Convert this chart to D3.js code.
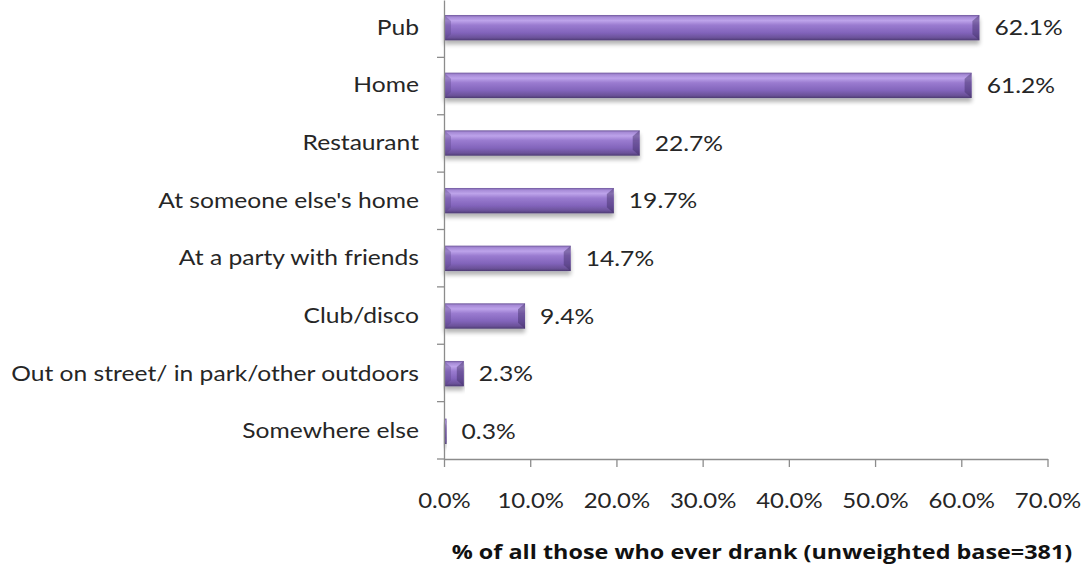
<!DOCTYPE html>
<html>
<head>
<meta charset="utf-8">
<script src="https://cdn.jsdelivr.net/npm/d3@7"></script>
<style>
  html, body { margin: 0; padding: 0; background: #fff; }
  svg { display: block; font-family: Lato, "Open Sans", sans-serif; }
</style>
</head>
<body>
<svg id="chart" width="1084" height="565"></svg>
<script>
// Where people drink: share of all those who ever drank
const categories = [
  "Pub",
  "Home",
  "Restaurant",
  "At someone else's home",
  "At a party with friends",
  "Club/disco",
  "Out on street/ in park/other outdoors",
  "Somewhere else"
];
const values = [62.1, 61.2, 22.7, 19.7, 14.7, 9.4, 2.3, 0.3];
const xTicks = [0, 10, 20, 30, 40, 50, 60, 70];
const axisTitle = "% of all those who ever drank (unweighted base=381)";

const FONT = "Lato, 'Open Sans', sans-serif";
// text in this chart is set slightly wide
const STRETCH = 1.12;

const svg = d3.select("#chart");
const margin = { left: 444, top: 0, right: 36.5, bottom: 106 };
const width = 1084 - margin.left - margin.right;
const height = 565 - margin.top - margin.bottom;

const x = d3.scaleLinear().domain([0, 70]).range([0, width]);
const y = d3.scaleBand().domain(categories).range([0, height]).paddingInner(0.56).paddingOuter(0.26);

// widen text horizontally, keeping its anchor point in place
function widen(sel, sx) {
  sel.each(function () {
    const t = d3.select(this);
    const x0 = +t.attr("x") || 0;
    t.attr("x", x0 / sx).attr("transform", `scale(${sx},1)`);
  });
}

const defs = svg.append("defs");
const grad = defs.append("linearGradient")
  .attr("id", "barFace").attr("x1", 0).attr("y1", 0).attr("x2", 0).attr("y2", 1);
[
  [0.00, "#6f589c"],
  [0.08, "#a68ad6"],
  [0.22, "#bda3ea"],
  [0.40, "#9a7bd0"],
  [0.70, "#8264bb"],
  [0.90, "#6a5198"],
  [1.00, "#4c3a72"]
].forEach(([o, c]) => grad.append("stop").attr("offset", o).attr("stop-color", c));

const shadow = defs.append("filter").attr("id", "barShadow")
  .attr("x", "-5%").attr("y", "-30%").attr("width", "110%").attr("height", "190%");
shadow.append("feGaussianBlur").attr("in", "SourceAlpha").attr("stdDeviation", 2.2).attr("result", "blur");
shadow.append("feOffset").attr("in", "blur").attr("dy", 4).attr("result", "off");
shadow.append("feComponentTransfer").attr("in", "off").attr("result", "soft")
  .append("feFuncA").attr("type", "linear").attr("slope", 0.3);
const merge = shadow.append("feMerge");
merge.append("feMergeNode").attr("in", "soft");
merge.append("feMergeNode").attr("in", "SourceGraphic");

const g = svg.append("g").attr("transform", `translate(${margin.left},${margin.top})`);

// bars with bevelled ends
const bars = g.selectAll(".bar").data(values).join("g")
  .attr("class", "bar")
  .attr("filter", "url(#barShadow)");

bars.append("rect")
  .attr("x", 0)
  .attr("y", (d, i) => y(categories[i]))
  .attr("width", d => x(d))
  .attr("height", y.bandwidth())
  .attr("fill", "url(#barFace)");

// right-hand bevel (darker) and left-hand bevel (lighter)
bars.append("path")
  .attr("d", (d, i) => {
    const w = x(d), y0 = y(categories[i]), h = y.bandwidth();
    const b = Math.min(7, w / 2), v = Math.min(6, h / 3);
    return `M${w},${y0} L${w},${y0 + h} L${w - b},${y0 + h - v} L${w - b},${y0 + v} Z`;
  })
  .attr("fill", "#3e2d63").attr("opacity", 0.45);

bars.append("path")
  .attr("d", (d, i) => {
    const w = x(d), y0 = y(categories[i]), h = y.bandwidth();
    const b = Math.min(7, w / 2), v = Math.min(6, h / 3);
    return `M0,${y0} L${b},${y0 + v} L${b},${y0 + h - v} L0,${y0 + h} Z`;
  })
  .attr("fill", "#5a4288").attr("opacity", 0.35);

// value labels
g.selectAll(".val").data(values).join("g")
  .attr("class", "val")
  .attr("transform", (d, i) => `translate(${x(d) + 15},${y(categories[i]) + y.bandwidth() / 2})`)
  .append("text")
  .attr("dy", "0.35em")
  .attr("font-size", 22)
  .attr("fill", "#262626")
  .text(d => d.toFixed(1) + "%")
  .call(widen, STRETCH);

// y axis
const yAxis = g.append("g").call(d3.axisLeft(y).tickSize(0).tickPadding(25).tickSizeOuter(0));
yAxis.select(".domain").attr("stroke", "#8c8c8c").attr("stroke-width", 1.3);
yAxis.selectAll("text").attr("font-size", 22).attr("fill", "#262626").attr("font-family", FONT)
  .call(widen, STRETCH);
// category separators on the y axis
g.append("g").selectAll("line").data(d3.range(1, categories.length + 1)).join("line")
  .attr("x1", -7).attr("x2", 0)
  .attr("y1", i => height * i / categories.length)
  .attr("y2", i => height * i / categories.length)
  .attr("stroke", "#8c8c8c").attr("stroke-width", 1.3);

// x axis
const xAxis = g.append("g").attr("transform", `translate(0,${height})`)
  .call(d3.axisBottom(x).tickValues(xTicks).tickFormat(d => d.toFixed(1) + "%")
    .tickSize(8).tickSizeOuter(0).tickPadding(26));
xAxis.select(".domain").attr("stroke", "#8c8c8c").attr("stroke-width", 1.3);
xAxis.selectAll(".tick line").attr("stroke", "#8c8c8c").attr("stroke-width", 1.3);
xAxis.selectAll("text").attr("font-size", 21).attr("fill", "#262626").attr("font-family", FONT)
  .call(widen, 1.14);

// axis title
svg.append("g").attr("transform", "translate(762,559)")
  .append("text")
  .attr("text-anchor", "middle")
  .attr("font-size", 20)
  .attr("font-weight", "bold")
  .attr("font-family", "'Open Sans', sans-serif")
  .attr("fill", "#111")
  .text(axisTitle)
  .call(widen, 1.17);
</script>
</body>
</html>
